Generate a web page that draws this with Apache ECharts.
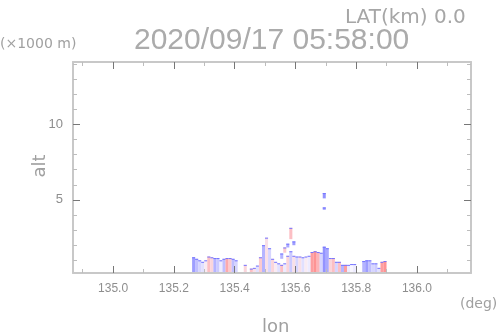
<!DOCTYPE html>
<html lang="en">
<head>
    <meta charset="UTF-8">
    <title>RHI lon-alt</title>
    <script src="https://cdn.jsdelivr.net/npm/echarts@6/dist/echarts.min.js"></script>
    <style>
        body{
            margin: 0;
            background-color: #ffffff;
        }
        #chart{
            width: 498px;
            height: 336px;
        }
    </style>
</head>
<body>
<div id="chart"></div>
<script>
    // echo columns: start lon (deg), top alt (km), doppler (-1 blue .. +1 red)
    var colLon = [135.26,135.27,135.28,135.29,135.30,135.31,135.32,135.33,135.34,135.35,135.36,135.37,135.38,135.39,135.40,
        135.43,135.45,135.46,135.47,135.48,135.49,135.50,135.51,135.52,135.53,135.54,135.55,135.56,135.57,135.58,135.59,
        135.60,135.61,135.62,135.63,135.64,135.65,135.66,135.67,135.68,135.69,135.70,135.71,135.72,135.73,135.74,135.75,
        135.76,135.77,135.78,135.79,135.82,135.83,135.84,135.85,135.86,135.87,135.88,135.89];
    var colTop = [1.20,1.10,1.00,0.90,1.00,1.25,1.20,1.15,1.15,1.00,1.10,1.15,1.15,1.10,1.00,
        0.70,0.45,0.50,0.65,1.20,2.00,2.50,1.80,1.10,0.90,0.80,0.70,0.80,1.30,1.60,1.30,
        1.25,1.25,1.20,1.25,1.30,1.55,1.60,1.55,1.50,1.90,1.80,1.15,1.15,0.90,0.90,0.70,
        0.70,0.70,0.75,0.75,0.95,1.00,1.00,0.80,0.80,0.50,0.90,0.95];
    var colVel = [-0.8,-0.5,-0.3,-0.2,0.1,0.5,0.3,-0.6,-0.4,-0.1,-0.5,0.7,0.4,-0.5,-0.3,
        0.3,0.5,0.2,-0.2,0.4,-0.6,0.2,-0.3,0.3,0.1,-0.2,0.5,-0.1,0.3,-0.4,0.2,
        -0.3,0.2,-0.2,0.1,-0.1,0.8,0.9,0.6,-0.3,-0.9,-0.7,0.3,0.5,-0.3,0.5,-0.6,
        0.8,-0.1,0.0,-0.1,-0.6,-0.8,-0.5,-0.3,-0.4,-0.2,0.8,0.9];

    // echoes aloft
    var upLon = [135.55,135.56,135.57,135.58,135.59,135.69,135.69];
    var upBase = [1.10,1.50,1.85,2.40,2.00,5.10,4.35];
    var upTop = [1.45,1.85,2.10,3.15,2.25,5.45,4.50];
    var upVel = [-0.6,0.4,-0.7,0.5,-0.8,-0.9,-0.9];

    var lonMajor = [135.0,135.2,135.4,135.6,135.8,136.0];
    var lonMinor = [134.9,135.0,135.1,135.2,135.3,135.4,135.5,135.6,135.7,135.8,135.9,136.0,136.1];
    var altMajor = [5,10];
    var altMinor = [1,2,3,4,5,6,7,8,9,10,11,12,13,14];

    var binW = 0.01;
    var lonMin = 134.868, lonMax = 136.178;
    var altMin = 0.16, altMax = 14.13;

    var echoData = [];
    for (var i = 0; i < colLon.length; i++) {
        echoData.push([colLon[i], colTop[i], colVel[i], altMin - 1]);
    }
    for (var j = 0; j < upLon.length; j++) {
        echoData.push([upLon[j], upTop[j], upVel[j], upBase[j]]);
    }

    var chart = echarts.init(document.getElementById('chart'));
    var frame = {show: true, lineStyle: {color: '#c8c8c8', width: 2}};
    var minorTick = function (vals) {
        return {show: true, inside: true, length: 4, customValues: vals, lineStyle: {color: '#bdbdbd', width: 1}};
    };
    var majorTick = function (vals) {
        return {show: true, inside: true, length: 7, customValues: vals, lineStyle: {color: '#777777', width: 1}};
    };
    var fmt1 = function (v) { return v.toFixed(1); };

    function renderEcho(params, api) {
        var lon = api.value(0), top = api.value(1), base = api.value(3);
        var p0 = api.coord([lon, base]);
        var p1 = api.coord([lon + binW, top]);
        var c = api.visual('color');
        return {
            type: 'group',
            children: [{
                type: 'rect',
                shape: {x: p0[0], y: p1[1], width: p1[0] - p0[0], height: p0[1] - p1[1]},
                style: {fill: c, opacity: 0.8}
            }, {
                type: 'line',
                shape: {x1: p0[0], y1: p1[1] + 0.5, x2: p1[0], y2: p1[1] + 0.5},
                style: {stroke: '#7474ff', lineWidth: 1}
            }]
        };
    }

    var option = {
        animation: false,
        grid: {left: 73, top: 62, right: 27, bottom: 63},
        xAxis: [{
            type: 'value', min: lonMin, max: lonMax, position: 'bottom', z: 5,
            axisLine: frame, axisTick: minorTick(lonMinor), splitLine: {show: false},
            axisLabel: {customValues: lonMajor, formatter: fmt1, margin: 10,
                fontFamily: 'Liberation Sans', fontSize: 12, color: '#8e8e8e'}
        }, {
            type: 'value', min: lonMin, max: lonMax, position: 'bottom', z: 6,
            axisLine: {show: false}, axisTick: majorTick(lonMajor), axisLabel: {show: false}, splitLine: {show: false}
        }, {
            type: 'value', min: lonMin, max: lonMax, position: 'top', z: 5,
            axisLine: frame, axisTick: minorTick(lonMinor), axisLabel: {show: false}, splitLine: {show: false}
        }, {
            type: 'value', min: lonMin, max: lonMax, position: 'top', z: 6,
            axisLine: {show: false}, axisTick: majorTick(lonMajor), axisLabel: {show: false}, splitLine: {show: false}
        }],
        yAxis: [{
            type: 'value', min: altMin, max: altMax, position: 'left', z: 5,
            axisLine: frame, axisTick: minorTick(altMinor), splitLine: {show: false},
            axisLabel: {customValues: altMajor, margin: 10,
                fontFamily: 'Liberation Sans', fontSize: 13, color: '#8e8e8e'}
        }, {
            type: 'value', min: altMin, max: altMax, position: 'left', z: 6,
            axisLine: {show: false}, axisTick: majorTick(altMajor), axisLabel: {show: false}, splitLine: {show: false}
        }, {
            type: 'value', min: altMin, max: altMax, position: 'right', z: 5,
            axisLine: frame, axisTick: minorTick(altMinor), axisLabel: {show: false}, splitLine: {show: false}
        }, {
            type: 'value', min: altMin, max: altMax, position: 'right', z: 6,
            axisLine: {show: false}, axisTick: majorTick(altMajor), axisLabel: {show: false}, splitLine: {show: false}
        }],
        visualMap: {
            show: false, type: 'continuous', seriesIndex: 0, dimension: 2, min: -1, max: 1,
            inRange: {color: ['#6a6aff', '#f6f4ff', '#ff6a6a']}
        },
        series: [{
            type: 'custom',
            xAxisIndex: 0,
            yAxisIndex: 0,
            clip: true,
            z: 2,
            renderItem: renderEcho,
            encode: {x: 0, y: 1},
            data: echoData
        }],
        graphic: [
            {type: 'text', left: 345, top: 8, style: {text: 'LAT(km) 0.0', fontFamily: 'DejaVu Sans', fontSize: 20, fill: '#a6a6a6'}},
            {type: 'text', left: 134, top: 26, style: {text: '2020/09/17 05:58:00', fontFamily: 'Liberation Sans', fontSize: 30, fill: '#ababab'}},
            {type: 'text', left: 0, top: 37, style: {text: '(\u00d71000 m)', fontFamily: 'DejaVu Sans', fontSize: 14, fill: '#a0a0a0'}},
            {type: 'text', x: 40, y: 166, rotation: Math.PI / 2,
                style: {text: 'alt', fontFamily: 'DejaVu Sans', fontSize: 18, fill: '#a0a0a0', align: 'center', verticalAlign: 'middle'}},
            {type: 'text', left: 460, top: 297, style: {text: '(deg)', fontFamily: 'DejaVu Sans', fontSize: 14, fill: '#a0a0a0'}},
            {type: 'text', left: 262, top: 318, style: {text: 'lon', fontFamily: 'DejaVu Sans', fontSize: 18, fill: '#a0a0a0'}}
        ]
    };
    chart.setOption(option);
</script>
</body>
</html>
